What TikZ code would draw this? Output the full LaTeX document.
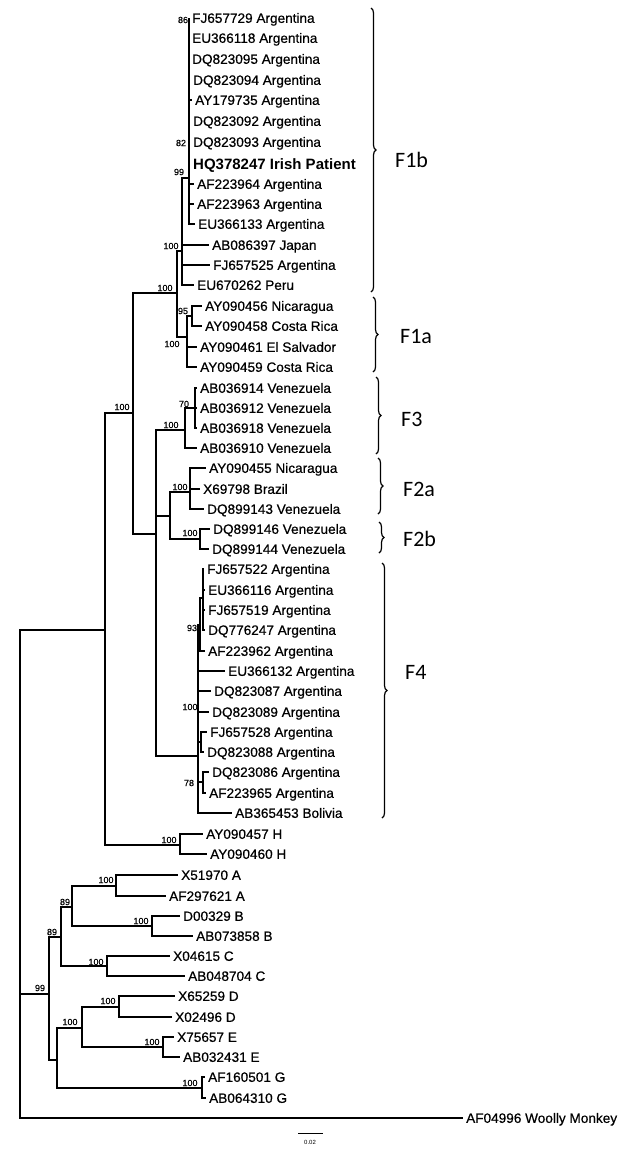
\documentclass[tikz,border=0pt]{standalone}
\usepackage{fontspec}
\setmainfont{Liberation Sans}
\newfontfamily\leaffam{Liberation Sans}[FakeBold=0.5]
\newfontfamily\cladefam{Carlito}
\usetikzlibrary{decorations.pathreplacing}
\newcommand\leaffont{\leaffam\fontsize{13.6}{14}\selectfont}
\newcommand\hqfont{\fontsize{15}{16}\selectfont\bfseries}
\newcommand\bsfont{\leaffam\fontsize{9}{10}\selectfont}
\newcommand\cladefont{\cladefam\fontsize{22}{24}\selectfont}
\tikzset{
  br/.style={line width=1.5pt, line join=miter},
  leaf/.style={anchor=west, inner xsep=3pt, inner ysep=0pt, text height=9.7pt, text depth=0pt, font=\leaffont},
  hq/.style={leaf, text height=10.7pt, font=\hqfont},
  bs/.style={inner sep=0pt, font=\bsfont},
  clade/.style={anchor=west, inner sep=0pt, text height=14pt, text depth=0pt, font=\cladefont},
  brc/.style={decorate, decoration={brace, amplitude=5pt}, line width=1.2pt}
}
\begin{document}
\begin{tikzpicture}[x=1pt,y=-1pt]
\fill[white] (0,0) rectangle (619,1149);
\useasboundingbox (0,0) rectangle (619,1149);
% leaves
\node[leaf] (L1) at (189,18) {FJ657729 Argentina};
\node[leaf] (L2) at (189,38) {EU366118 Argentina};
\node[leaf] (L3) at (189,59) {DQ823095 Argentina};
\node[leaf] (L4) at (190,80) {DQ823094 Argentina};
\node[leaf] (L5) at (192,100) {AY179735 Argentina};
\node[leaf] (L6) at (190,121) {DQ823092 Argentina};
\node[leaf] (L7) at (190,142) {DQ823093 Argentina};
\node[hq] (L8) at (190,164) {HQ378247 Irish Patient};
\node[leaf] (L9) at (194,184) {AF223964 Argentina};
\node[leaf] (L10) at (194,204) {AF223963 Argentina};
\node[leaf] (L11) at (195,224) {EU366133 Argentina};
\node[leaf] (L12) at (209,245) {AB086397 Japan};
\node[leaf] (L13) at (210,265) {FJ657525 Argentina};
\node[leaf] (L14) at (194,285) {EU670262 Peru};
\node[leaf] (L15) at (202,306) {AY090456 Nicaragua};
\node[leaf] (L16) at (202,326) {AY090458 Costa Rica};
\node[leaf] (L17) at (197,347) {AY090461 El Salvador};
\node[leaf] (L18) at (197,367) {AY090459 Costa Rica};
\node[leaf] (L19) at (197,388) {AB036914 Venezuela};
\node[leaf] (L20) at (197,408) {AB036912 Venezuela};
\node[leaf] (L21) at (197,428) {AB036918 Venezuela};
\node[leaf] (L22) at (197,448) {AB036910 Venezuela};
\node[leaf] (L23) at (206,468) {AY090455 Nicaragua};
\node[leaf] (L24) at (200,489) {X69798 Brazil};
\node[leaf] (L25) at (204,509) {DQ899143 Venezuela};
\node[leaf] (L26) at (210,529) {DQ899146 Venezuela};
\node[leaf] (L27) at (209,549) {DQ899144 Venezuela};
\node[leaf] (L28) at (204,569) {FJ657522 Argentina};
\node[leaf] (L29) at (205,590) {EU366116 Argentina};
\node[leaf] (L30) at (205,610) {FJ657519 Argentina};
\node[leaf] (L31) at (205,630) {DQ776247 Argentina};
\node[leaf] (L32) at (205,651) {AF223962 Argentina};
\node[leaf] (L33) at (225,671) {EU366132 Argentina};
\node[leaf] (L34) at (211,691) {DQ823087 Argentina};
\node[leaf] (L35) at (209,712) {DQ823089 Argentina};
\node[leaf] (L36) at (207,732) {FJ657528 Argentina};
\node[leaf] (L37) at (204,752) {DQ823088 Argentina};
\node[leaf] (L38) at (209,772) {DQ823086 Argentina};
\node[leaf] (L39) at (206,793) {AF223965 Argentina};
\node[leaf] (L40) at (232,813) {AB365453 Bolivia};
\node[leaf] (L41) at (203,834) {AY090457 H};
\node[leaf] (L42) at (207,854) {AY090460 H};
\node[leaf] (L43) at (178,875) {X51970 A};
\node[leaf] (L44) at (166,896) {AF297621 A};
\node[leaf] (L45) at (180,916) {D00329 B};
\node[leaf] (L46) at (193,936) {AB073858 B};
\node[leaf] (L47) at (170,956) {X04615 C};
\node[leaf] (L48) at (185,976) {AB048704 C};
\node[leaf] (L49) at (175,996) {X65259 D};
\node[leaf] (L50) at (172,1017) {X02496 D};
\node[leaf] (L51) at (174,1037) {X75657 E};
\node[leaf] (L52) at (180,1057) {AB032431 E};
\node[leaf] (L53) at (205,1077) {AF160501 G};
\node[leaf] (L54) at (206,1098) {AB064310 G};
\node[leaf] (L55) at (463,1118) {AF04996 Woolly Monkey};
% internal nodes
\coordinate (n99) at (189,178);
\coordinate (nF1b) at (182,251);
\coordinate (n95) at (192,316);
\coordinate (nF1a) at (187,337);
\coordinate (nF1) at (177,293);
\coordinate (n70) at (195,408);
\coordinate (nF3) at (185,430);
\coordinate (nF2a) at (190,492);
\coordinate (nF2b) at (200,539);
\coordinate (nF2) at (170,516);
\coordinate (nP) at (203,598);
\coordinate (n93) at (200,625);
\coordinate (nQ) at (201,742);
\coordinate (n78) at (203,782);
\coordinate (nF4) at (198,756);
\coordinate (nY) at (156,534);
\coordinate (nX) at (133,413);
\coordinate (nH) at (180,845);
\coordinate (nZ) at (105,630);
\coordinate (nRoot) at (20,874);
\coordinate (nA) at (116,886);
\coordinate (nB) at (152,926);
\coordinate (nAB) at (72,907);
\coordinate (nC) at (107,966);
\coordinate (nABC) at (61,937);
\coordinate (nD) at (119,1007);
\coordinate (nE) at (163,1047);
\coordinate (nDE) at (82,1028);
\coordinate (nG) at (202,1088);
\coordinate (nDEG) at (57,1060);
\coordinate (nAG) at (49,994);
% branches to leaves
\foreach \p/\c in {n99/L1,n99/L2,n99/L3,n99/L4,n99/L5,n99/L6,n99/L7,n99/L8,n99/L9,n99/L10,n99/L11,
  nF1b/L12,nF1b/L13,nF1b/L14,n95/L15,n95/L16,nF1a/L17,nF1a/L18,
  n70/L19,n70/L20,n70/L21,nF3/L22,nF2a/L23,nF2a/L24,nF2a/L25,nF2b/L26,nF2b/L27,
  nP/L28,nP/L29,nP/L30,nP/L31,n93/L32,nF4/L33,nF4/L34,nF4/L35,nQ/L36,nQ/L37,n78/L38,n78/L39,nF4/L40,
  nH/L41,nH/L42,nA/L43,nA/L44,nB/L45,nB/L46,nC/L47,nC/L48,nD/L49,nD/L50,nE/L51,nE/L52,nG/L53,nG/L54,nRoot/L55}
  \draw[br] (\p) |- (\c.west);
% internal branches
\foreach \p/\c in {nF1b/n99,nF1a/n95,nF1/nF1b,nF1/nF1a,nF3/n70,nF2/nF2a,nF2/nF2b,
  n93/nP,nF4/n93,nF4/nQ,nF4/n78,nY/nF3,nY/nF2,nY/nF4,nX/nF1,nX/nY,nZ/nX,nZ/nH,nRoot/nZ,nRoot/nAG,
  nAB/nA,nAB/nB,nABC/nAB,nABC/nC,nDE/nD,nDE/nE,nDEG/nDE,nDEG/nG,nAG/nABC,nAG/nDEG}
  \draw[br] (\p) |- (\c);
% bootstrap values
\node[bs] (b1) at (183,20) {86};
\node[bs] (b2) at (181,143) {82};
\node[bs] (b3) at (179,172) {99};
\node[bs] (b4) at (171,246) {100};
\node[bs] (b5) at (183,311) {95};
\node[bs] (b6) at (172,344) {100};
\node[bs] (b7) at (165,288) {100};
\node[bs] (b8) at (122,407) {100};
\node[bs] (b9) at (184,404) {70};
\node[bs] (b10) at (171,425) {100};
\node[bs] (b11) at (180,487) {100};
\node[bs] (b12) at (190,533) {100};
\node[bs] (b13) at (192,628) {93};
\node[bs] (b14) at (190,707) {100};
\node[bs] (b15) at (189,783) {78};
\node[bs] (b16) at (169,840) {100};
\node[bs] (b17) at (106,880) {100};
\node[bs] (b18) at (65,902) {89};
\node[bs] (b19) at (141,921) {100};
\node[bs] (b20) at (52,932) {89};
\node[bs] (b21) at (96,962) {100};
\node[bs] (b22) at (40,988) {99};
\node[bs] (b23) at (70,1022) {100};
\node[bs] (b24) at (108,1001) {100};
\node[bs] (b25) at (152,1042) {100};
\node[bs] (b26) at (190,1083) {100};
% scale bar
\coordinate (s1) at (298,1133);
\coordinate (s2) at (323,1133);
\draw[line width=0.8pt] (s1) -- (s2);
\node[inner sep=0pt, font=\fontsize{6}{7}\selectfont] (sl) at (310,1142) {0.02};
% clade braces
\coordinate (c1a) at (371,8);   \coordinate (c1b) at (371,292);
\coordinate (c2a) at (373,297); \coordinate (c2b) at (373,372);
\coordinate (c3a) at (376,377); \coordinate (c3b) at (376,454);
\coordinate (c4a) at (378,458); \coordinate (c4b) at (378,514);
\coordinate (c5a) at (379,522); \coordinate (c5b) at (379,553);
\coordinate (c6a) at (382,563); \coordinate (c6b) at (382,818);
\draw[brc] (c1a) -- (c1b);
\draw[brc] (c2a) -- (c2b);
\draw[brc] (c3a) -- (c3b);
\draw[brc] (c4a) -- (c4b);
\draw[brc] (c5a) -- (c5b);
\draw[brc] (c6a) -- (c6b);
\node[clade] (F1b) at (395,160) {F1b};
\node[clade] (F1a) at (400,336) {F1a};
\node[clade] (F3) at (401,419) {F3};
\node[clade] (F2a) at (403,489) {F2a};
\node[clade] (F2b) at (403,539) {F2b};
\node[clade] (F4) at (405,672) {F4};
\end{tikzpicture}
\end{document}
